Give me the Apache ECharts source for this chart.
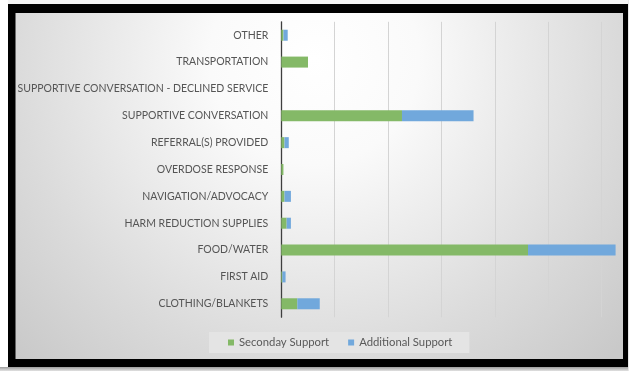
<!DOCTYPE html>
<html>
<head>
<meta charset="utf-8">
<title>Support Provided by Category</title>
<script src="https://cdn.jsdelivr.net/npm/echarts@6/dist/echarts.min.js"></script>
<style>
  html, body { margin: 0; padding: 0; background: #ffffff; }
  #chart { width: 629px; height: 371px; }
</style>
</head>
<body>
<div id="chart"></div>
<script>
// Categories, listed top to bottom
const categories = [
  'OTHER',
  'TRANSPORTATION',
  'SUPPORTIVE CONVERSATION - DECLINED SERVICE',
  'SUPPORTIVE CONVERSATION',
  'REFERRAL(S) PROVIDED',
  'OVERDOSE RESPONSE',
  'NAVIGATION/ADVOCACY',
  'HARM REDUCTION SUPPLIES',
  'FOOD/WATER',
  'FIRST AID',
  'CLOTHING/BLANKETS'
];

// Series values (same order as categories)
const secondarySupport = [2, 25, 0, 113, 3, 2, 3, 5, 231, 1, 15];
const additionalSupport = [4, 0, 0, 67, 4, 0, 6, 4, 82, 3, 21];

const seriesNames = ['Seconday Support', 'Additional Support'];

// Value axis range (the plot runs past the frame on the right)
const axisMax = 350;
const axisStep = 50;

const chart = echarts.init(document.getElementById('chart'), null, { renderer: 'canvas' });

const labelFont = 'Lato, "Open Sans", "DejaVu Sans", sans-serif';

chart.setOption({
  animation: false,
  backgroundColor: new echarts.graphic.RadialGradient(0.5, 0.16, 1.13, [
    { offset: 0, color: '#ffffff' },
    { offset: 0.25, color: '#fafafa' },
    { offset: 0.71, color: '#dbdbdb' },
    { offset: 1, color: '#c9c9c9' }
  ]),
  grid: {
    left: 281.3,
    width: 373.8,
    top: 21.8,
    height: 295.4,
    containLabel: false,
    outerBoundsMode: 'none'
  },
  legend: {
    data: seriesNames,
    left: 209,
    top: 332,
    orient: 'horizontal',
    icon: 'rect',
    itemWidth: 6,
    itemHeight: 6,
    itemGap: 19,
    padding: [5, 17, 5, 19],
    backgroundColor: '#e4e4e4',
    textStyle: {
      color: '#595959',
      fontFamily: labelFont,
      fontSize: 11.3
    }
  },
  xAxis: {
    type: 'value',
    min: 0,
    max: axisMax,
    interval: axisStep,
    axisLine: { show: false },
    axisTick: { show: false },
    axisLabel: { show: false },
    splitLine: { show: true, lineStyle: { color: '#d4d4d4', width: 1 } }
  },
  yAxis: {
    type: 'category',
    data: categories,
    inverse: true,
    axisLine: { show: true, lineStyle: { color: '#3f3f3f', width: 1.3 } },
    axisTick: { show: false },
    axisLabel: {
      color: '#555555',
      fontFamily: labelFont,
      fontSize: 10.5,
      margin: 13
    }
  },
  series: [
    {
      name: seriesNames[0],
      type: 'bar',
      stack: 'total',
      data: secondarySupport,
      barWidth: 11,
      itemStyle: { color: '#84b967' }
    },
    {
      name: seriesNames[1],
      type: 'bar',
      stack: 'total',
      data: additionalSupport,
      barWidth: 11,
      itemStyle: { color: '#71a8dc' }
    }
  ],
  graphic: [
    // area outside the framed panel
    { type: 'rect', z: 100, silent: true, shape: { x: 0, y: 0, width: 629, height: 4 }, style: { fill: '#f4f4f4' } },
    { type: 'rect', z: 100, silent: true, shape: { x: 0, y: 0, width: 8, height: 371 }, style: { fill: '#ffffff' } },
    {
      type: 'rect', z: 100, silent: true,
      shape: { x: 0, y: 367, width: 629, height: 4 },
      style: {
        fill: new echarts.graphic.LinearGradient(0, 0, 0, 1, [
          { offset: 0, color: '#9c9c9c' },
          { offset: 1, color: '#e2e2e2' }
        ])
      }
    },
    // black frame
    { type: 'rect', z: 101, silent: true, shape: { x: 8, y: 4, width: 620, height: 9 }, style: { fill: '#000000' } },
    { type: 'rect', z: 101, silent: true, shape: { x: 8, y: 4, width: 7.5, height: 363 }, style: { fill: '#000000' } },
    { type: 'rect', z: 101, silent: true, shape: { x: 623, y: 4, width: 5, height: 363 }, style: { fill: '#000000' } },
    { type: 'rect', z: 101, silent: true, shape: { x: 8, y: 359, width: 620, height: 8 }, style: { fill: '#000000' } },
    { type: 'rect', z: 100, silent: true, shape: { x: 628, y: 0, width: 1, height: 371 }, style: { fill: '#e6e6e6' } }
  ]
});
</script>
</body>
</html>
